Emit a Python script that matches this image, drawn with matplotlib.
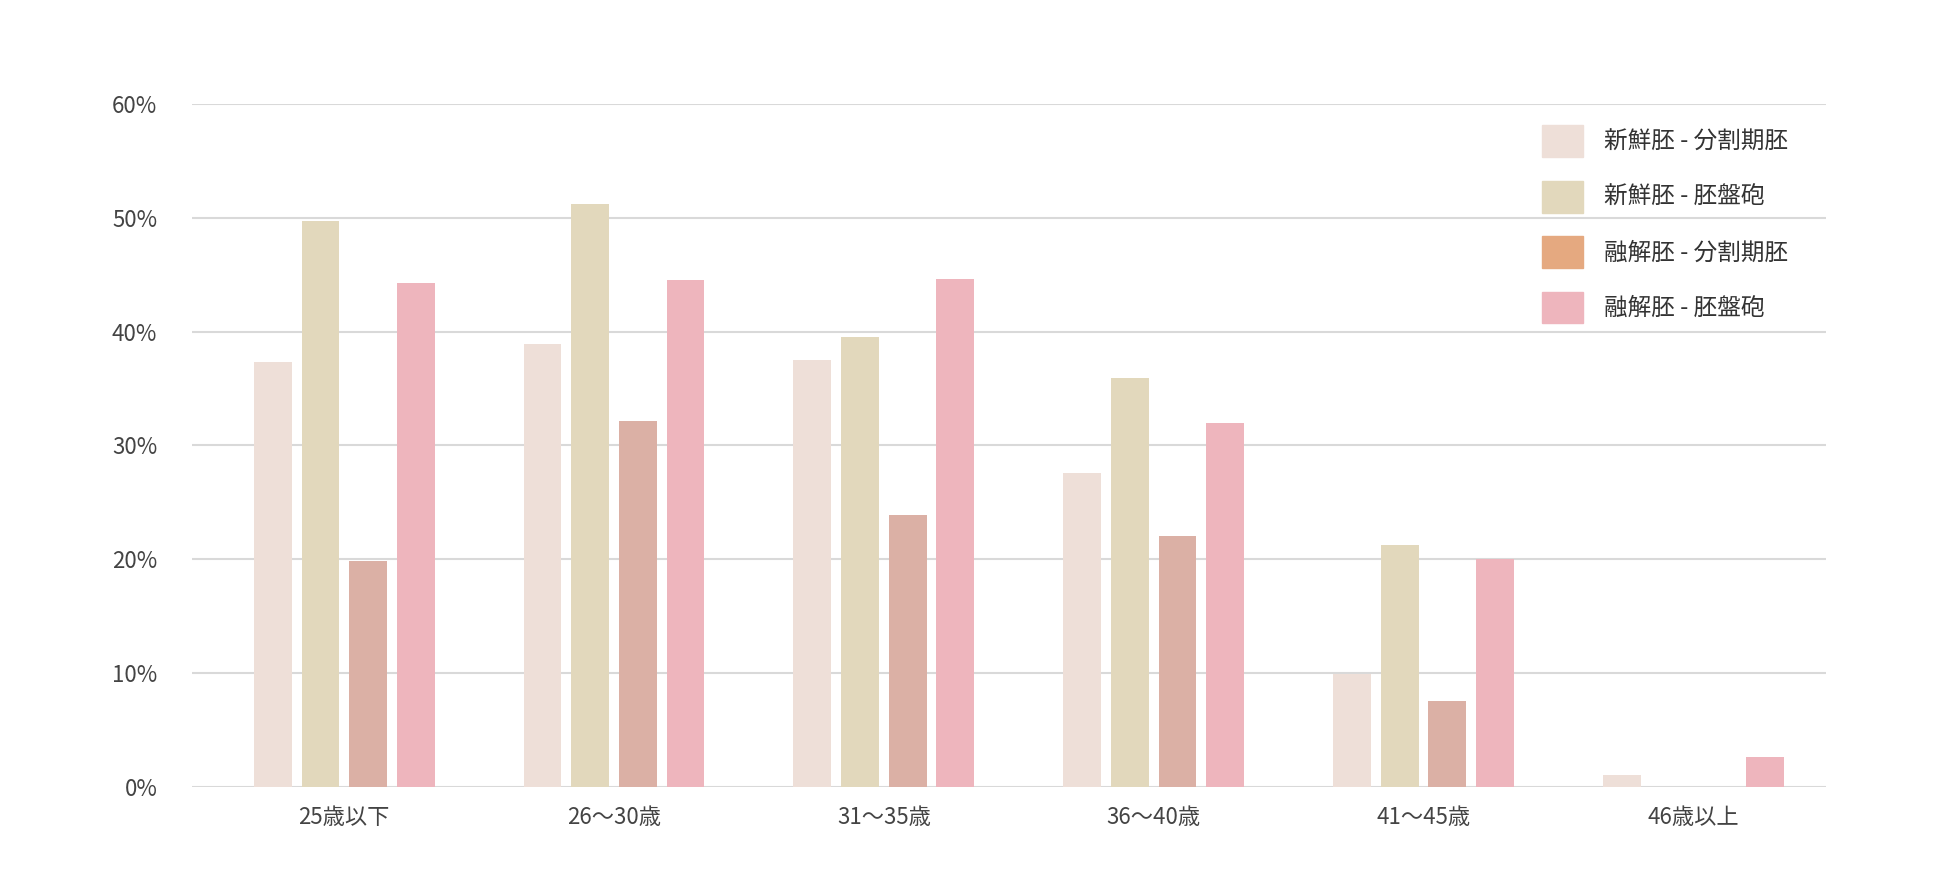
import numpy as np
import matplotlib.pyplot as plt
from matplotlib.patches import Patch

plt.rcParams['font.family'] = ['Noto Sans CJK JP', 'DejaVu Sans']

# データ
categories = ['25歳以下', '26〜30歳', '31〜35歳', '36〜40歳', '41〜45歳', '46歳以上']
series = ['新鮮胚 - 分割期胚', '新鮮胚 - 胚盤砲', '融解胚 - 分割期胚', '融解胚 - 胚盤砲']
fresh_cleavage = [37.3, 38.9, 37.5, 27.6, 9.9, 1.0]
fresh_blast = [49.7, 51.2, 39.5, 35.9, 21.2, 0]
frozen_cleavage = [19.8, 32.1, 23.9, 22.0, 7.5, 0]
frozen_blast = [44.3, 44.5, 44.6, 32.0, 20.0, 2.6]
values = [fresh_cleavage, fresh_blast, frozen_cleavage, frozen_blast]

bar_colors = ['#eedfd8', '#e2d8bc', '#dbb0a5', '#eeb5bd']
legend_colors = ['#eedfd8', '#e2d8bc', '#e5a980', '#eeb5bd']

fig = plt.figure(figsize=(19.4, 8.88), dpi=100)
ax = fig.add_axes([0.099, 0.114, 0.842, 0.769])

x = np.arange(len(categories))
offsets = [-0.265, -0.088, 0.088, 0.265]
for vals, off, c in zip(values, offsets, bar_colors):
    ax.bar(x + off, vals, width=0.14, color=c, zorder=2)

ax.set_ylim(0, 60)
ax.set_xlim(-0.564, 5.49)
ax.set_yticks(range(0, 61, 10))
ax.set_yticklabels([f'{v}%' for v in range(0, 61, 10)])
ax.set_xticks(x)
ax.set_xticklabels(categories)
ax.grid(axis='y', color='#d9d9d9', linewidth=1.5, zorder=0)
for s in ax.spines.values():
    s.set_visible(False)
ax.tick_params(length=0, labelsize=16, colors='#444444')
ax.tick_params(axis='y', pad=25)
ax.tick_params(axis='x', pad=14)

handles = [Patch(color=c) for c in legend_colors]
leg = ax.legend(handles, series, loc='upper right', bbox_to_anchor=(0.99, 1.0),
                frameon=False, fontsize=17, handlelength=1.7, handleheight=1.7,
                labelspacing=1.0, handletextpad=0.9)
for t in leg.get_texts():
    t.set_color('#333333')

fig.savefig('out.png')
